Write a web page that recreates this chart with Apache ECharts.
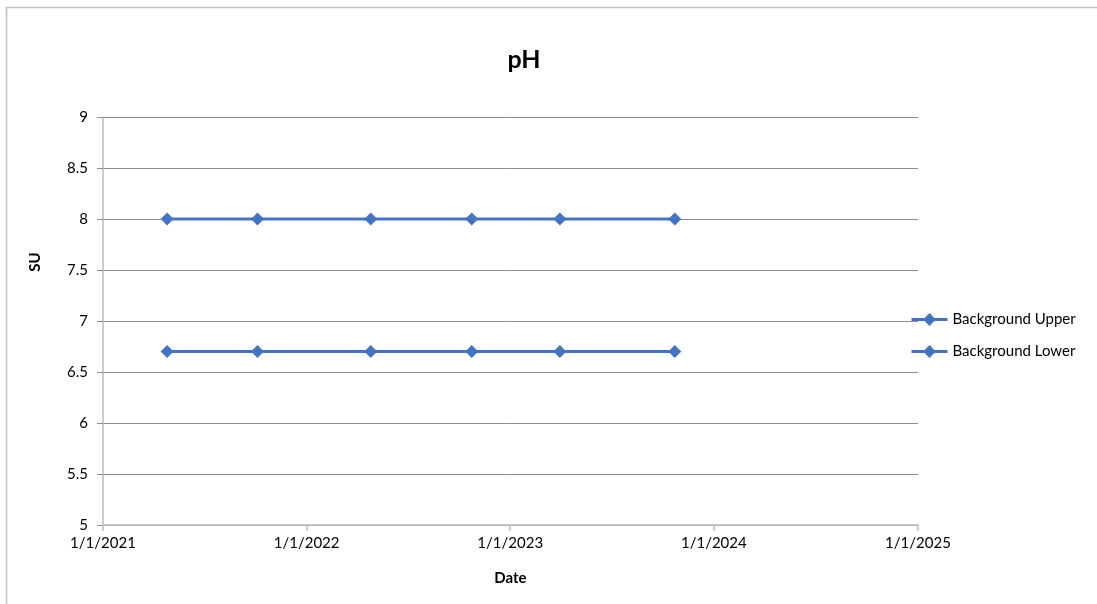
<!DOCTYPE html>
<html>
<head>
<meta charset="utf-8">
<title>pH</title>
<script src="https://cdn.jsdelivr.net/npm/echarts@6/dist/echarts.min.js"></script>
<style>
  html, body { margin: 0; padding: 0; background: #fff; }
  #chart { width: 1097px; height: 604px; }
</style>
</head>
<body>
<div id="chart"></div>
<script>
// Sampling dates and background limits (SU)
const sampleDates = ['2021-04-26', '2021-10-05', '2022-04-26', '2022-10-24', '2023-03-31', '2023-10-23'];
const backgroundUpper = [8, 8, 8, 8, 8, 8];
const backgroundLower = [6.7, 6.7, 6.7, 6.7, 6.7, 6.7];
const seriesNames = ['Background Upper', 'Background Lower'];
const xRange = ['2021-01-01', '2025-01-01'];
const yTicks = { min: 5, max: 9, step: 0.5 };

const FONT = 'Lato, "Open Sans", sans-serif';
const DAY = 24 * 3600 * 1000;
const LINE_COLOR = '#4472C4';

function parseDay(s) {
  const p = s.split('-').map(Number);
  return new Date(p[0], p[1] - 1, p[2]).getTime();
}

function pairs(dates, vals) {
  return dates.map((d, i) => [parseDay(d), vals[i]]);
}

function lineSeries(name, vals) {
  return {
    name: name,
    type: 'line',
    data: pairs(sampleDates, vals),
    symbol: 'diamond',
    symbolSize: 13,
    lineStyle: { color: LINE_COLOR, width: 3 },
    itemStyle: { color: LINE_COLOR },
    animation: false
  };
}

const chart = echarts.init(document.getElementById('chart'), null, { renderer: 'canvas' });

chart.setOption({
  backgroundColor: '#fff',
  animation: false,
  textStyle: { fontFamily: FONT },
  graphic: [
    {
      type: 'rect',
      shape: { x: 6.5, y: 7.5, width: 1200, height: 700 },
      style: { fill: 'none', stroke: '#bfbfbf', lineWidth: 1.5 },
      silent: true,
      z: -10
    },
    {
      type: 'text',
      x: 35,
      y: 262,
      rotation: Math.PI / 2,
      style: {
        text: 'SU',
        font: 'bold 15px ' + FONT,
        fill: '#000',
        align: 'center',
        verticalAlign: 'middle'
      }
    }
  ],
  title: {
    text: 'pH',
    left: 519,
    top: 42,
    textAlign: 'center',
    textStyle: { fontFamily: FONT, fontSize: 25, fontWeight: 'bold', color: '#000' }
  },
  legend: {
    orient: 'vertical',
    left: 910,
    top: 312,
    padding: 0,
    itemWidth: 36,
    itemHeight: 16,
    itemGap: 17,
    lineStyle: { width: 3 },
    textStyle: { fontFamily: FONT, fontSize: 15, color: '#000' },
    data: seriesNames
  },
  grid: { left: 103, right: 179, top: 117, bottom: 79, containLabel: false },
  xAxis: {
    type: 'time',
    // a minute past the last year mark so that mark keeps its tick
    min: parseDay(xRange[0]),
    max: parseDay(xRange[1]) + 60000,
    splitNumber: 4,
    minInterval: 365 * DAY,
    maxInterval: 366 * DAY,
    name: 'Date',
    nameLocation: 'middle',
    nameGap: 46,
    nameTextStyle: { fontFamily: FONT, fontSize: 15, fontWeight: 'bold', color: '#000' },
    axisLine: { show: true, lineStyle: { color: '#bdbdbd', width: 1.5 } },
    axisTick: { show: true, length: 6, lineStyle: { color: '#bdbdbd', width: 1.5 } },
    splitLine: { show: false },
    axisLabel: {
      margin: 11,
      fontFamily: FONT,
      fontSize: 15,
      fontWeight: 'normal',
      color: '#000',
      hideOverlap: false,
      showMaxLabel: true,
      formatter: function (v) {
        const d = new Date(v);
        return (d.getMonth() + 1) + '/' + d.getDate() + '/' + d.getFullYear();
      }
    }
  },
  yAxis: {
    type: 'value',
    min: yTicks.min,
    max: yTicks.max,
    interval: yTicks.step,
    axisLine: { show: true, lineStyle: { color: '#bdbdbd', width: 1.5 } },
    axisTick: { show: true, length: 6, lineStyle: { color: '#8c8c8c' } },
    splitLine: { show: true, lineStyle: { color: '#8c8c8c', width: 1 } },
    axisLabel: {
      margin: 15,
      fontFamily: FONT,
      fontSize: 15,
      color: '#000',
      formatter: function (v) { return String(v); }
    }
  },
  series: [
    lineSeries(seriesNames[0], backgroundUpper),
    lineSeries(seriesNames[1], backgroundLower)
  ]
});
</script>
</body>
</html>
